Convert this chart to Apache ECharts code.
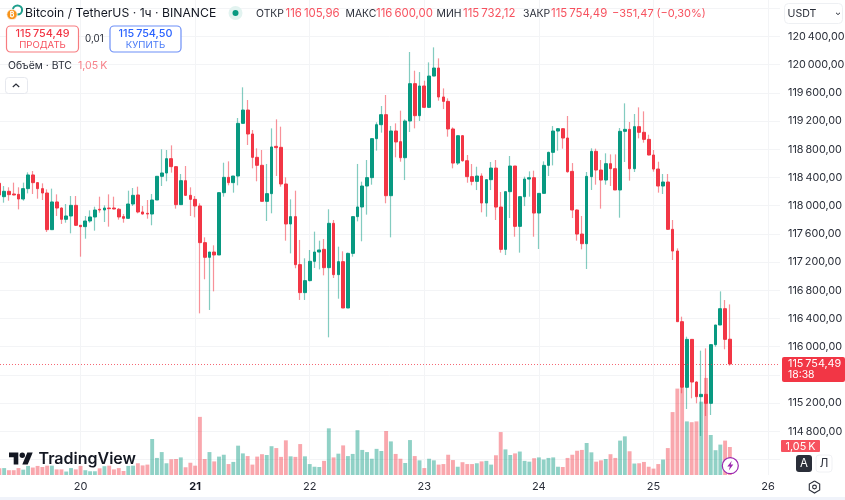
<!DOCTYPE html>
<html><head><meta charset="utf-8">
<style>html,body{margin:0;padding:0;background:#fff}#c{width:845px;height:500px}</style>
<script src="https://cdn.jsdelivr.net/npm/echarts@6/dist/echarts.min.js"></script>
</head><body><div id="c"></div>
<script>
// hourly candles, first value = 19th 07:00, day 20 starts at position 17
const opens=[118317,118128,118204,118166,118161,118095,118242,118436,118327,118242,118180,117660,118053,117967,117807,117854,118005,
117722,117703,117783,117840,117949,117939,117967,117967,117949,117845,117821,118024,118152,117911,117892,117882,118081,118417,118464,118667,118554,118015,118355,118147,118090,
117996,117476,117268,117343,117301,118185,118402,118327,118421,119168,119357,119017,118686,118573,118062,118171,118842,118828,118308,117741,117845,117164,116767,116937,
117211,117343,117381,117121,117750,117022,117206,116549,117324,117845,117982,118279,118398,118951,119149,119291,118142,119060,118908,118681,119201,119731,119277,119698,119395,119839,
119953,119542,119480,119088,118605,118993,118638,118412,118345,118421,118038,118369,118534,117981,117381,118199,118563,117707,118128,118378,118397,117896,118175,118572,118757,119059,119092,118960,
118487,117939,117598,117461,118412,118771,118506,118364,118596,118525,118223,119055,119083,118525,119121,119041,118941,118719,118520,118279,118336,117665,117357,116355,115424,116104,115499,115291,115324,115197,116029,116308,116539,116105.96];
const closes=[118152,118204,118157,118152,118095,118242,118436,118327,118242,118180,117660,118053,117967,117807,117854,118005,117722,
117703,117783,117840,117939,117939,117967,117958,117953,117840,117821,118024,118147,117911,117882,117882,118081,118417,118464,118667,118554,118015,118355,118147,118090,117996,
117476,117268,117343,117301,118185,118402,118327,118421,119168,119357,119017,118686,118573,118062,118171,118833,118823,118308,117741,117845,117164,116767,116937,117211,
117343,117372,117121,117750,117022,117206,116549,117324,117845,117982,118279,118398,118951,119149,119291,118142,119060,118904,118681,119201,119731,119277,119698,119395,119839,119953,
119542,119480,119088,118605,118993,118638,118412,118345,118421,118038,118369,118534,117981,117381,118199,118563,117707,118128,118378,118397,117896,118175,118572,118757,119059,119092,118960,118482,
117939,117598,117461,118416,118771,118506,118364,118596,118525,118223,119055,119083,118525,119121,119041,118941,118719,118520,118279,118336,117665,117357,116355,115424,116104,115499,115291,115324,115197,116029,116308,116539,116104,115754.49];
const lows=[118128,118043,118071,118147,117948,118071,118175,118166,118100,118081,117627,117660,117854,117741,117759,117608,117712,
117277,117532,117759,117646,117901,117769,117703,117949,117802,117759,117816,117996,117892,117873,117816,117722,118081,118279,118346,118469,117958,118015,118138,117854,117835,
116473,116956,116521,116785,117301,118128,118289,118185,118289,119168,118861,118530,118346,118062,117783,117892,118421,118270,117504,117324,117112,116663,116663,116927,
117116,117097,117012,116133,116975,116681,116549,116549,117277,117778,117495,117873,118298,118781,119036,118034,117551,118686,118624,118364,119045,119097,119201,119385,119385,119839,
119490,119371,118979,118530,118577,118624,118326,118289,118222,117906,117844,118222,117797,117334,117300,117825,117560,117334,117995,118128,117560,117386,118175,118421,118572,118780,118809,118468,
117825,117504,117381,117102,118223,118298,117958,118298,118279,118223,117830,118620,118355,118478,118955,118894,118714,118483,118185,118166,117655,117230,116355,115339,115116,115268,115197,114733,115017,115031,116000,116308,115963,115732.12];
const highs=[118341,118279,118261,118327,118261,118327,118473,118492,118336,118317,118232,118242,118161,117977,118024,118138,118138,
117726,117854,117934,117986,118128,118005,118161,118128,117967,117882,118213,118251,118270,117996,118081,118166,118417,118800,118790,118856,118554,118450,118563,118261,118138,
118034,117551,117343,117438,118185,118610,118629,118421,119244,119679,119499,119074,118814,118790,118592,119097,119225,119121,118402,118090,118213,117514,117254,117372,
117632,117504,117528,117949,117797,117419,117353,117334,117845,118592,118341,118648,118951,119183,119414,119570,119131,119168,119348,119225,120180,119915,119896,119773,120033,120246,
120090,119664,119523,119111,118993,119003,118719,118591,118553,118459,118374,118620,118648,118194,118199,118705,118563,118128,118412,118487,118497,118175,118629,118766,119130,119102,119097,119272,
118605,117948,117854,118478,118814,118809,118648,118743,118728,118728,119102,119452,119187,119301,119395,119338,119007,118790,118624,118450,118450,117797,117395,116426,116142,116104,115509,115944,115977,116029,116308,116785,116662,116600];
// volume in thousands of BTC
const volumes=[0.25,0.26,0.18,0.18,0.26,0.20,0.34,0.28,0.34,0.30,0.35,0.35,0.21,0.21,0.13,0.26,0.21,
0.34,0.18,0.14,0.14,0.25,0.33,0.35,0.21,0.26,0.15,0.34,0.35,0.44,0.36,0.39,1.35,0.64,0.86,0.44,0.59,0.60,0.66,0.29,0.46,0.35,
2.18,0.60,0.86,0.51,0.69,0.76,0.41,0.49,1.10,0.81,0.71,0.39,0.69,0.78,0.75,1.08,1.01,0.68,1.30,0.70,0.68,1.16,0.70,0.41,
0.31,0.30,0.53,1.75,0.66,0.80,1.11,0.71,0.79,1.68,0.94,0.86,0.61,0.98,0.90,1.65,1.26,0.79,0.61,0.45,1.31,0.71,0.55,0.26,0.61,0.55,
0.39,0.41,0.76,0.56,0.31,0.48,0.41,0.41,0.44,0.51,0.53,0.39,0.74,1.61,0.96,0.75,0.81,0.88,0.53,0.50,0.63,0.66,0.58,0.64,0.66,0.31,0.30,0.64,
0.76,0.91,0.94,1.20,0.85,0.50,0.55,0.60,0.78,0.64,1.29,1.45,0.89,0.43,0.44,0.49,0.31,0.24,0.41,0.58,1.01,2.36,3.24,3.26,2.01,1.98,2.01,2.75,3.64,1.50,0.93,1.14,1.29,1.05];
const dayPositions=[17,41,65,89,113,137,161];
const dayLabels=['20','21','22','23','24','25','26'];
const boldDay='21';
const priceTicks=['120\u2009400,00','120\u2009000,00','119\u2009600,00','119\u2009200,00','118\u2009800,00','118\u2009400,00','118\u2009000,00','117\u2009600,00','117\u2009200,00','116\u2009800,00','116\u2009400,00','116\u2009000,00','115\u2009200,00','114\u2009800,00'];
const lastPrice=115754.49;
const slotCount=164;

const GREEN='#089981',RED='#F23645',GRID='#f3f4f6',INK='#2a2e39';
const FONT='Inter, "Noto Sans", sans-serif';
const slots=Array.from({length:slotCount},(_,i)=>String(i));
const wicks=opens.map((o,i)=>[o,closes[i],lows[i],highs[i]]);
const bodies=opens.map((o,i)=>[o,closes[i],Math.min(o,closes[i]),Math.max(o,closes[i])]);
const volData=volumes.map((v,i)=>({value:v,itemStyle:{color:closes[i]>=opens[i]?'rgba(8,153,129,0.45)':'rgba(242,54,69,0.44)'}}));

function T(x,y,text,fill,size,weight,align){
  return {type:'text',z:50,silent:true,style:{x,y,text,fill,font:(weight||400)+' '+size+'px '+FONT,verticalAlign:'middle',align:align||'left'}};
}
function R(x,y,w,h,fill,stroke,r,lw){
  return {type:'rect',z:49,silent:true,shape:{x,y,width:w,height:h,r:r||0},style:{fill:fill||'none',stroke:stroke||'none',lineWidth:lw||1}};
}
function C(cx,cy,r,fill,stroke,lw){
  return {type:'circle',z:49,silent:true,shape:{cx,cy,r},style:{fill:fill||'none',stroke:stroke||'none',lineWidth:lw||1}};
}
function P(points,stroke,lw,fill){
  return {type:fill?'polygon':'polyline',z:50,silent:true,shape:{points},style:{fill:fill||'none',stroke:stroke||'none',lineWidth:lw||1}};
}
const pr='#f7525f';
const graphic=[
  R(0,497,845,3,'#f0f3fa'),
  // symbol icons
  C(17.5,10,4.6,'#fff','#1e9e8c',2),
  C(12,14.5,5.2,'#f7931a','#fff',0.8),
  T(12,14.7,'₿','#fff',7,700,'center'),
  T(25,13.5,'Bitcoin / TetherUS · 1ч · BINANCE','#131722',12.2),
  C(235.5,13,7,'#e2f3f0'),C(235.5,13,3,GREEN),
  T(256,13.5,'ОТКР',INK,10.4),T(285.5,13.5,'116\u2009105,96',pr,11.4),
  T(345.5,13.5,'МАКС',INK,10.4),T(376,13.5,'116\u2009600,00',pr,11.4),
  T(436.5,13.5,'МИН',INK,10.4),T(463,13.5,'115\u2009732,12',pr,11.4),
  T(523,13.5,'ЗАКР',INK,10.4),T(551,13.5,'115\u2009754,49',pr,11.4),
  T(612,13.5,'−351,47',pr,11),T(656.5,13.5,'(−0,30%)',pr,11),
  // trade buttons
  R(6.5,26,72,26,'#fff','#f77c80',4,1.2),
  T(42.5,34,'115\u2009754,49',RED,10.8,500,'center'),T(42.5,45.5,'ПРОДАТЬ',pr,9.6,400,'center'),
  T(85,39.5,'0,01',INK,9.8),
  R(110,26,71,26,'#fff','#6d8ff7',4,1.2),
  T(145.5,34,'115\u2009754,50','#2962ff',10.8,500,'center'),T(145.5,45.5,'КУПИТЬ','#4a7bf7',9.6,400,'center'),
  T(8,66,'Объём · BTC',INK,10.4),T(78,66,'1,05\u2009K','#f7828a',10.6),
  R(5.5,77.5,22,16,'#fff','#e6e8ee',3),
  P([[12.8,87],[16,84],[19.2,87]],INK,1.2),
  // currency box
  R(784.5,3.5,58,20,'#fff','#eef0f3',4),
  T(787.5,13.8,'USDT',INK,10.6),
  P([[836,12.8],[838,14.6],[840,12.8]],INK,1),
  // last price tag
  R(782,357,63,25,RED,null,2),
  T(788,364,'115\u2009754,49','#fff',10.8),T(788,375,'18:38','#fff',10.4),
  // volume tag
  R(781,440,39,12,'#f7525f',null,1),
  T(800.5,446.5,'1,05\u2009K','#fff',10.8,400,'center'),
  // TradingView logo
  P([[18.3,464.5],[13.7,464.5],[13.7,457.2],[9,457.2],[9,452.5],[18.3,452.5]],null,0,'#131722'),
  P([[27.7,464.5],[22.3,464.5],[27.3,452.5],[32.7,452.5]],null,0,'#131722'),
  C(22.3,455.2,2.7,'#131722'),
  T(38.5,459,'TradingView','#131722',16,600),
  // lightning button
  C(730.3,465.7,8,'#fff','#9c27b0',1.2),
  P([[731.8,460.8],[727.3,466.6],[729.9,466.6],[728.8,470.6],[733.3,464.6],[730.7,464.6]],null,0,'#9c27b0'),
  // auto / log buttons
  R(796,455,16,17,'#2a2e39',null,3),T(804,463.8,'А','#fff',11.5,400,'center'),
  R(816,455,16,17,'#fff','#f0f1f4',3),T(824,463.8,'Л',INK,11.5,400,'center'),
  // settings
  P([[814.5,481],[819.7,484],[819.7,490],[814.5,493],[809.3,490],[809.3,484],[814.5,481]],INK,1.1),
  C(814.5,487,1.9,null,INK,1.1)
];

const chart=echarts.init(document.getElementById('c'),null,{renderer:'canvas'});
chart.setOption({
  animation:false,backgroundColor:'#fff',
  grid:[
    {left:-3,top:8.3,width:783,height:451.2,containLabel:false,outerBoundsMode:'none'},
    {left:-3,top:0,width:783,height:475,containLabel:false,outerBoundsMode:'none'}
  ],
  xAxis:[
    {type:'category',gridIndex:0,data:slots,show:false,splitLine:{show:false}},
    {type:'category',gridIndex:1,data:slots,axisLine:{show:false},axisTick:{show:false},
      splitLine:{show:true,alignWithLabel:true,lineStyle:{color:GRID,width:1},interval:(i)=>dayPositions.includes(i)},
      axisLabel:{show:true,margin:6,interval:(i)=>dayPositions.includes(i),fontFamily:FONT,fontSize:11,color:INK,
        formatter:(v,i)=>{const d=dayLabels[dayPositions.indexOf(i)];return d===boldDay?'{b|'+d+'}':d;},
        rich:{b:{fontFamily:FONT,fontSize:11,fontWeight:700,color:'#131722'}}}}
  ],
  yAxis:[
    {type:'value',gridIndex:0,position:'right',min:114400,max:120800,interval:400,
      axisLine:{show:false},axisTick:{show:false},
      splitLine:{show:true,lineStyle:{color:GRID,width:1}},
      axisLabel:{margin:8,fontFamily:FONT,fontSize:10.8,color:INK,
        formatter:(v)=>{const s=String(v).slice(0,3)+'\u2009'+String(v).slice(3)+',00';return priceTicks.includes(s)?s:'';}}},
    {type:'value',gridIndex:1,min:0,max:17.8125,show:false,splitLine:{show:false}}
  ],
  series:[
    {name:'Объём',type:'bar',xAxisIndex:1,yAxisIndex:1,data:volData,barWidth:3.9,z:1,silent:true},
    {name:'wicks',type:'candlestick',xAxisIndex:0,yAxisIndex:0,data:wicks,barWidth:1,z:3,silent:true,
      itemStyle:{color:'rgba(8,153,129,.5)',color0:'rgba(242,54,69,.55)',borderColor:'rgba(8,153,129,.5)',borderColor0:'rgba(242,54,69,.55)',borderWidth:1.2}},
    {name:'bodies',type:'candlestick',xAxisIndex:0,yAxisIndex:0,data:bodies,barWidth:3.2,z:4,silent:true,
      itemStyle:{color:GREEN,color0:RED,borderColor:GREEN,borderColor0:RED,borderWidth:1},
      markLine:{silent:true,symbol:'none',label:{show:false},animation:false,
        lineStyle:{color:RED,type:[1,2],width:1,opacity:0.75},data:[{yAxis:lastPrice}]}}
  ],
  graphic:{elements:graphic}
});
</script></body></html>
